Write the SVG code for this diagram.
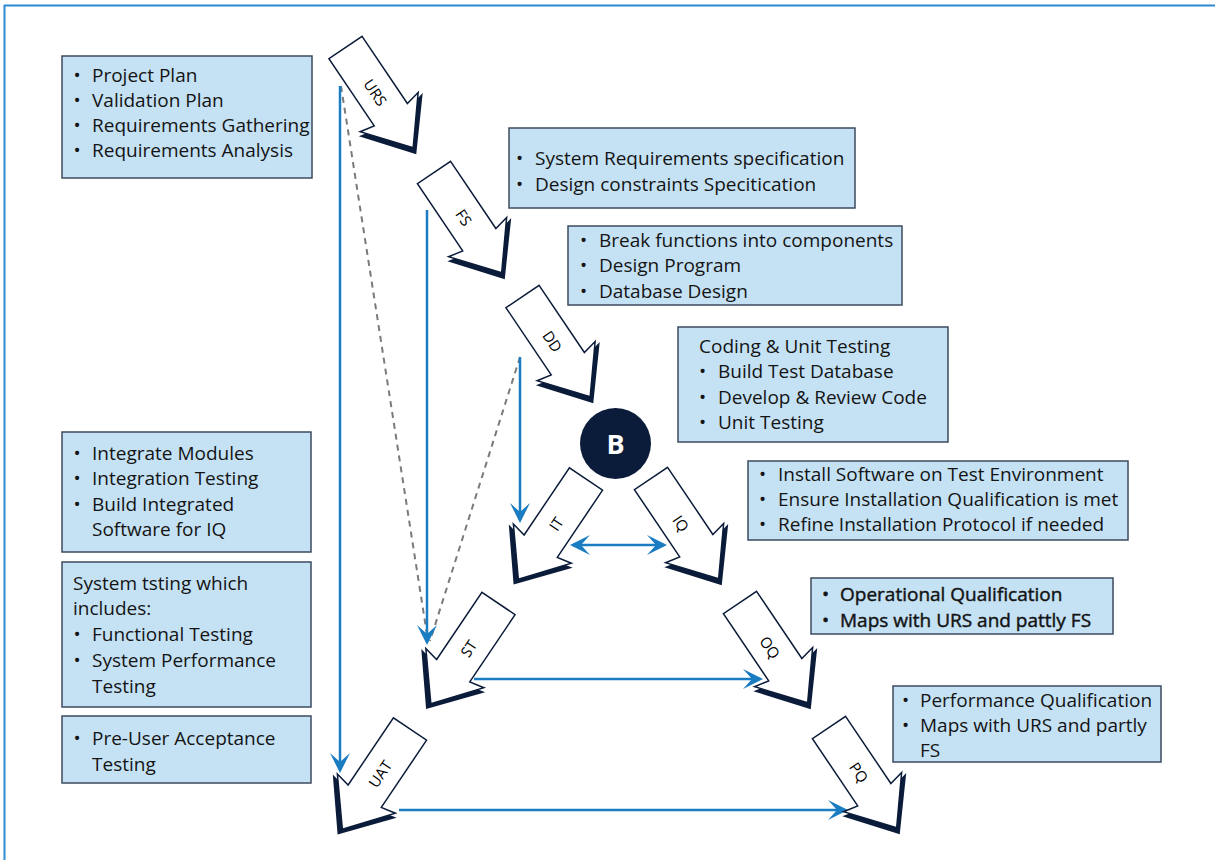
<svg xmlns="http://www.w3.org/2000/svg" xmlns:xlink="http://www.w3.org/1999/xlink" width="1215" height="860" viewBox="0 0 1215 860">
<style>
.frame{fill:none;stroke:#2b8bd3;stroke-width:2}
.box{fill:#c5e2f5;stroke:#3d4b5f;stroke-width:1.5}
.t{font-family:"Open Sans","Liberation Sans",sans-serif;font-size:19px;fill:#141414}
.sb{stroke:#141414;stroke-width:0.45}
.lbl{font-family:"Open Sans","Liberation Sans",sans-serif;font-size:15px;fill:#000000;text-anchor:middle;dominant-baseline:central}
.shd{fill:#0b1c3a}
.blk{fill:#ffffff;stroke:#0b1c3a;stroke-width:1.5;stroke-linejoin:miter}
.con{fill:none;stroke:#1a7cc1;stroke-width:2.5}
.dash{fill:none;stroke:#7a7a7a;stroke-width:2;stroke-dasharray:6 5}
</style>
<defs>
<marker id="ah" markerUnits="userSpaceOnUse" viewBox="-20 -12 26 24" refX="0" refY="0" markerWidth="26" markerHeight="24" orient="auto-start-reverse">
<path d="M3,0 L-17,-10 L-8,0 L-17,10 Z" fill="#1a7cc1"/>
</marker>
<g id="arrow">
<path class="shd" d="M85,-20 L81,-38.5 L128,1 L81,38.5 L85,20 Z"/>
<path class="blk" d="M0,-20 L81,-20 L78,-35 L121,0 L78,35 L81,20 L0,20 Z"/>
</g>
</defs>
<rect width="1215" height="860" fill="#ffffff"/>
<path class="frame" d="M4.5,860 V5.5 H1215"/>

<g id="connectors">
<path class="dash" d="M341,86 L428,641"/>
<path class="dash" d="M520,357 L430,641"/>
<path class="con" d="M340,86 V770" marker-end="url(#ah)"/>
<path class="con" d="M427,210 V642" marker-end="url(#ah)"/>
<path class="con" d="M520,357 V520" marker-end="url(#ah)"/>
<path class="con" d="M573,545 H664" marker-start="url(#ah)" marker-end="url(#ah)"/>
<path class="con" d="M474,679 H760" marker-end="url(#ah)"/>
<path class="con" d="M399,810 H845" marker-end="url(#ah)"/>
</g>

<g id="node-urs" transform="translate(345.5,47.5) rotate(56)"><use href="#arrow"/><text class="lbl" x="54" y="0">URS</text></g>
<g id="node-fs" transform="translate(434,172.5) rotate(56)"><use href="#arrow"/><text class="lbl" x="54" y="0">FS</text></g>
<g id="node-dd" transform="translate(522.5,296.5) rotate(56)"><use href="#arrow"/><text class="lbl" x="54" y="0">DD</text></g>
<g id="node-iq" transform="translate(651,478.5) rotate(56)"><use href="#arrow"/><text class="lbl" x="54" y="0">IQ</text></g>
<g id="node-oq" transform="translate(740,602.5) rotate(56)"><use href="#arrow"/><text class="lbl" x="54" y="0">OQ</text></g>
<g id="node-pq" transform="translate(829,727.5) rotate(56)"><use href="#arrow"/><text class="lbl" x="54" y="0">PQ</text></g>
<g id="node-it" transform="translate(586,479) rotate(124)"><use href="#arrow"/><text class="lbl" transform="translate(54,0) rotate(180)">IT</text></g>
<g id="node-st" transform="translate(498.5,603.5) rotate(124)"><use href="#arrow"/><text class="lbl" transform="translate(54,0) rotate(180)">ST</text></g>
<g id="node-uat" transform="translate(410,729) rotate(124)"><use href="#arrow"/><text class="lbl" transform="translate(54,0) rotate(180)">UAT</text></g>

<g id="node-b">
<circle cx="615.5" cy="443.5" r="35.5" fill="#0b1c3a"/>
<text x="615.5" y="453.5" text-anchor="middle" font-family="'Open Sans','Liberation Sans',sans-serif" font-weight="700" font-size="27" fill="#ffffff">B</text>
</g>

<g id="box-planning">
<rect class="box" x="62" y="56" width="250" height="122"/>
<text class="t"><tspan x="73.5" y="82">•</tspan><tspan x="92" y="82">Project Plan</tspan></text>
<text class="t"><tspan x="73.5" y="107">•</tspan><tspan x="92" y="107">Validation Plan</tspan></text>
<text class="t"><tspan x="73.5" y="132">•</tspan><tspan x="92" y="132">Requirements Gathering</tspan></text>
<text class="t"><tspan x="73.5" y="157">•</tspan><tspan x="92" y="157">Requirements Analysis</tspan></text>
</g>

<g id="box-fs">
<rect class="box" x="509" y="128" width="346" height="80"/>
<text class="t"><tspan x="516" y="165">•</tspan><tspan x="535" y="165">System Requirements specification</tspan></text>
<text class="t"><tspan x="516" y="191">•</tspan><tspan x="535" y="191">Design constraints Specitication</tspan></text>
</g>

<g id="box-dd">
<rect class="box" x="568" y="226" width="334" height="79"/>
<text class="t"><tspan x="580" y="247">•</tspan><tspan x="599" y="247">Break functions into components</tspan></text>
<text class="t"><tspan x="580" y="272">•</tspan><tspan x="599" y="272">Design Program</tspan></text>
<text class="t"><tspan x="580" y="298">•</tspan><tspan x="599" y="298">Database Design</tspan></text>
</g>

<g id="box-coding">
<rect class="box" x="678" y="327" width="270" height="115"/>
<text class="t" x="699" y="353">Coding &amp; Unit Testing</text>
<text class="t"><tspan x="699" y="378">•</tspan><tspan x="718" y="378">Build Test Database</tspan></text>
<text class="t"><tspan x="699" y="404">•</tspan><tspan x="718" y="404">Develop &amp; Review Code</tspan></text>
<text class="t"><tspan x="699" y="429">•</tspan><tspan x="718" y="429">Unit Testing</tspan></text>
</g>

<g id="box-iq">
<rect class="box" x="748" y="461" width="380" height="79"/>
<text class="t"><tspan x="759" y="481">•</tspan><tspan x="778" y="481">Install Software on Test Environment</tspan></text>
<text class="t"><tspan x="759" y="506">•</tspan><tspan x="778" y="506">Ensure Installation Qualification is met</tspan></text>
<text class="t"><tspan x="759" y="531">•</tspan><tspan x="778" y="531">Refine Installation Protocol if needed</tspan></text>
</g>

<g id="box-oq">
<rect class="box" x="811" y="578" width="302" height="56"/>
<text class="t sb"><tspan x="822" y="601">•</tspan><tspan x="840" y="601">Operational Qualification</tspan></text>
<text class="t sb"><tspan x="822" y="627">•</tspan><tspan x="840" y="627">Maps with URS and pattly FS</tspan></text>
</g>

<g id="box-pq">
<rect class="box" x="893" y="686" width="268" height="76"/>
<text class="t"><tspan x="902" y="707">•</tspan><tspan x="920" y="707">Performance Qualification</tspan></text>
<text class="t"><tspan x="902" y="732">•</tspan><tspan x="920" y="732">Maps with URS and partly</tspan></text>
<text class="t" x="920" y="757">FS</text>
</g>

<g id="box-integration">
<rect class="box" x="62" y="432" width="249" height="120"/>
<text class="t"><tspan x="73.5" y="460">•</tspan><tspan x="92" y="460">Integrate Modules</tspan></text>
<text class="t"><tspan x="73.5" y="485">•</tspan><tspan x="92" y="485">Integration Testing</tspan></text>
<text class="t"><tspan x="73.5" y="511">•</tspan><tspan x="92" y="511">Build Integrated</tspan></text>
<text class="t" x="92" y="536">Software for IQ</text>
</g>

<g id="box-system">
<rect class="box" x="62" y="562" width="249" height="145"/>
<text class="t" x="73" y="590">System tsting which</text>
<text class="t" x="73" y="615">includes:</text>
<text class="t"><tspan x="73.5" y="641">•</tspan><tspan x="92" y="641">Functional Testing</tspan></text>
<text class="t"><tspan x="73.5" y="667">•</tspan><tspan x="92" y="667">System Performance</tspan></text>
<text class="t" x="92" y="693">Testing</text>
</g>

<g id="box-uat">
<rect class="box" x="62" y="716" width="249" height="67"/>
<text class="t"><tspan x="73.5" y="745">•</tspan><tspan x="92" y="745">Pre-User Acceptance</tspan></text>
<text class="t" x="92" y="771">Testing</text>
</g>
</svg>
